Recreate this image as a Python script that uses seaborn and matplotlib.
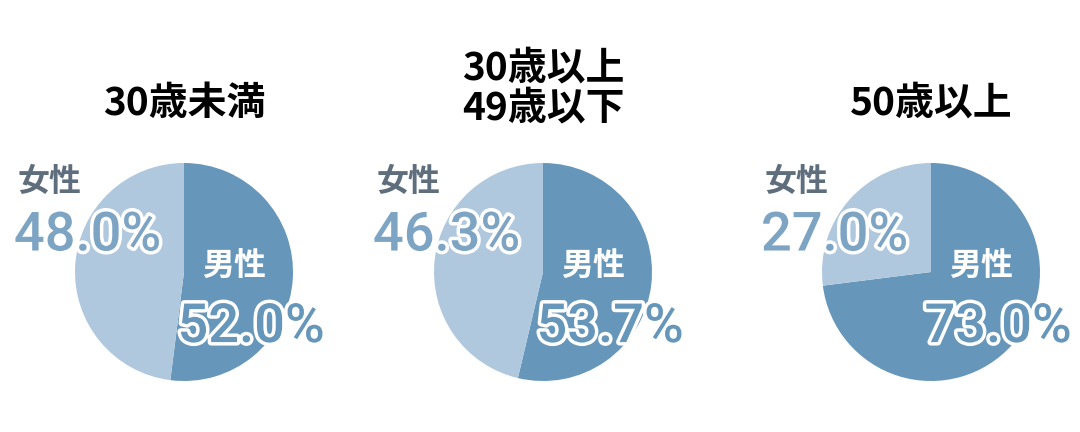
import numpy as np
import seaborn as sns
import matplotlib.pyplot as plt
import matplotlib.patheffects as pe

# values (percent)
groups = ["30歳未満", "30歳以上\n49歳以下", "50歳以上"]
male = [52.0, 53.7, 73.0]
female = [48.0, 46.3, 27.0]
male_label = "男性"
female_label = "女性"

sns.set_theme(style="white")
plt.rcParams['font.family'] = ['Noto Sans CJK JP', 'DejaVu Sans']

male_color = "#6697ba"
female_color = "#b0c8dd"
female_text = "#7ea4c4"
grey_text = "#5f6e7d"

W, H = 1080, 432
fig = plt.figure(figsize=(W / 100, H / 100), dpi=100)
fig.patch.set_facecolor("white")

centers_x = [184, 543, 931]
cy = 272
r = 109

for i, cx in enumerate(centers_x):
    ax = fig.add_axes([(cx - r) / W, (H - cy - r) / H, 2 * r / W, 2 * r / H])
    ax.pie(
        [male[i], female[i]],
        colors=[male_color, female_color],
        startangle=90,
        counterclock=False,
        radius=1,
        wedgeprops={"linewidth": 0},
    )
    ax.set_xlim(-1, 1)
    ax.set_ylim(-1, 1)
    ax.axis("off")

    nlines = groups[i].count("\n") + 1
    ax.text(0, 1.55 + 0.14 * (nlines - 1), groups[i], ha="center", va="center",
            fontsize=28, fontweight="bold", color="black", linespacing=1.05,
            clip_on=False)

    # female labels (upper left, outside the pie)
    ax.text(-1.53, 0.83, female_label, ha="left", va="center", fontsize=23,
            fontweight="bold", color=grey_text, clip_on=False)
    ax.text(-1.56, 0.33, f"{female[i]:.1f}%", ha="left", va="center",
            fontsize=39, fontweight=500, color=female_text,
            family=['Roboto', 'DejaVu Sans'], clip_on=False,
            path_effects=[pe.withStroke(linewidth=5, foreground="white")])

    # male labels (inside the darker slice)
    ax.text(0.17, 0.05, male_label, ha="left", va="center", fontsize=23,
            fontweight="bold", color="white", clip_on=False)
    ax.text(-0.06, -0.51, f"{male[i]:.1f}%", ha="left", va="center",
            fontsize=39, fontweight=500, color=male_color,
            family=['Roboto', 'DejaVu Sans'], clip_on=False,
            path_effects=[pe.withStroke(linewidth=5, foreground="white")])

plt.savefig("out.png", dpi=100)
